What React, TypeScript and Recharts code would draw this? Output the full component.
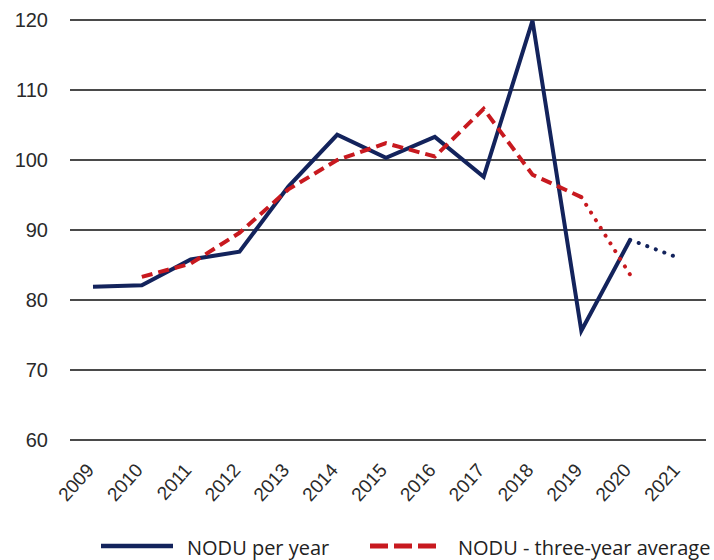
import { LineChart, Line, XAxis, YAxis, CartesianGrid, Legend } from 'recharts';

const years = ['2009', '2010', '2011', '2012', '2013', '2014', '2015', '2016', '2017', '2018', '2019', '2020', '2021'];
// NODU per year (2021 is a forecast, drawn dotted)
const perYear = [81.9, 82.1, 85.8, 86.9, 96.2, 103.6, 100.3, 103.3, 97.6, 119.9, 75.6, 88.6, 86.0];
// three-year rolling average (2020 drawn dotted)
const threeYearAvg = [null, 83.3, 85.2, 89.6, 95.8, 100.0, 102.4, 100.5, 107.3, 97.9, 94.7, 83.6, null];
const yTicks = [60, 70, 80, 90, 100, 110, 120];

const NAVY = '#13235c';
const RED = '#c8191f';

const LAST_ACTUAL = 11; // 2020
const LAST_AVG = 10; // 2019

const data = years.map((year, i) => ({
  year,
  perYear: i <= LAST_ACTUAL ? perYear[i] : null,
  perYearFc: i >= LAST_ACTUAL ? perYear[i] : null,
  avg: i <= LAST_AVG ? threeYearAvg[i] : null,
  avgFc: i >= LAST_AVG ? threeYearAvg[i] : null,
}));

const YearTick = ({ x, y, payload }: any) => (
  <text
    transform={`translate(${x + 2},${y + 23}) rotate(-48)`}
    textAnchor="end"
    fontSize={19}
    fill="#2a2a2a"
    fontFamily="'Liberation Sans', Arial, sans-serif"
  >
    {payload.value}
  </text>
);

const ChartLegend = () => (
  <div
    style={{
      position: 'relative',
      height: 44,
      fontFamily: "'Open Sans', sans-serif",
      fontSize: 20,
      color: '#222',
    }}
  >
    <svg width={72} height={10} style={{ position: 'absolute', left: 101, top: 25 }}>
      <line x1={0} y1={5} x2={72} y2={5} stroke={NAVY} strokeWidth={4.5} />
    </svg>
    <span style={{ position: 'absolute', left: 187, top: 18, lineHeight: '27px', whiteSpace: 'nowrap' }}>NODU per year</span>
    <svg width={68} height={10} style={{ position: 'absolute', left: 369, top: 25 }}>
      <line x1={1} y1={5} x2={67} y2={5} stroke={RED} strokeWidth={5} strokeDasharray="18 6" />
    </svg>
    <span style={{ position: 'absolute', left: 458, top: 18, lineHeight: '27px', whiteSpace: 'nowrap' }}>
      NODU - three-year average
    </span>
  </div>
);

export default function App() {
  return (
    <div style={{ position: 'absolute', left: 0, top: 0, width: 714, height: 560, background: '#fff' }}>
      <LineChart width={714} height={560} data={data} margin={{ top: 20, right: 8, left: 0, bottom: 0 }}>
        <CartesianGrid vertical={false} stroke="#4a4a4a" strokeWidth={2} />
        <XAxis
          dataKey="year"
          axisLine={false}
          tickLine={false}
          interval={0}
          height={76}
          padding={{ left: 23, right: 27 }}
          tick={<YearTick />}
        />
        <YAxis
          domain={[60, 120]}
          ticks={yTicks}
          axisLine={false}
          tickLine={false}
          width={70}
          tickMargin={16}
          tick={{ fontSize: 20, fill: '#2a2a2a', fontFamily: "'Liberation Sans', Arial, sans-serif" }}
        />
        <Legend verticalAlign="bottom" content={<ChartLegend />} />
        <Line dataKey="perYear" stroke={NAVY} strokeWidth={4} dot={false} isAnimationActive={false} />
        <Line
          dataKey="perYearFc"
          stroke={NAVY}
          strokeWidth={4}
          strokeDasharray="0.1 9"
          strokeLinecap="round"
          dot={false}
          isAnimationActive={false}
        />
        <Line dataKey="avg" stroke={RED} strokeWidth={4} strokeDasharray="11 6" dot={false} isAnimationActive={false} />
        <Line
          dataKey="avgFc"
          stroke={RED}
          strokeWidth={4}
          strokeDasharray="0.1 9"
          strokeLinecap="round"
          dot={false}
          isAnimationActive={false}
        />
      </LineChart>
    </div>
  );
}
